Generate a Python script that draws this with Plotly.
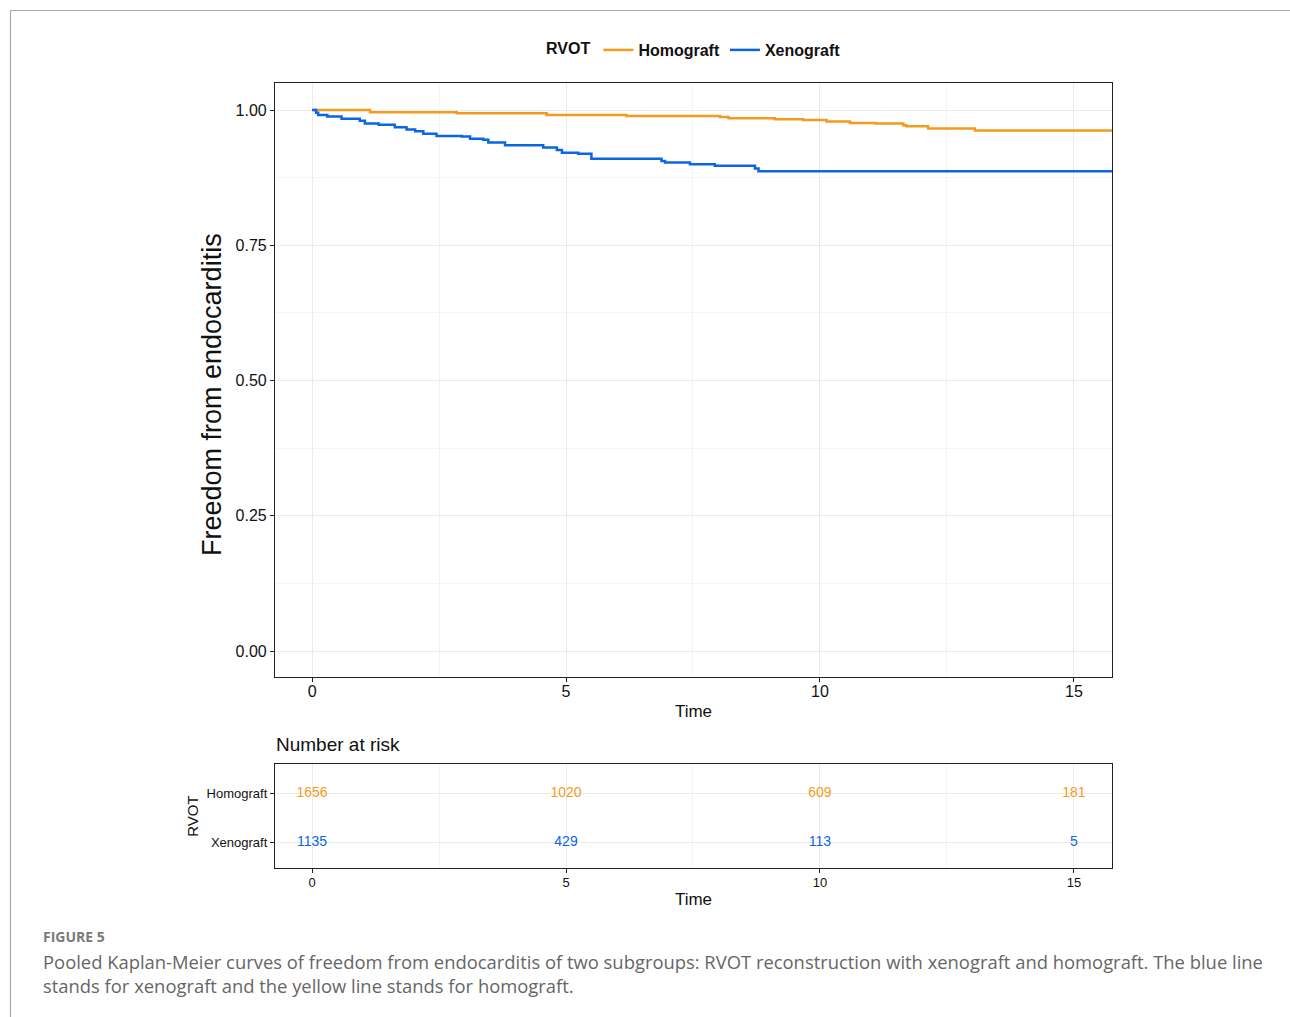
import plotly.graph_objects as go

W, H = 1290, 1017

# ---- data ----
homo_time = [0, 1.14, 2.85, 4.62, 6.19, 8.03, 8.2, 9.11, 9.67, 10.13, 10.59, 11.1, 11.64, 11.7, 12.13, 13.05, 15.75]
homo_surv = [1.0, 0.996, 0.994, 0.991, 0.989, 0.987, 0.985, 0.983, 0.9815, 0.979, 0.976, 0.975, 0.972, 0.970, 0.966, 0.962, 0.962]

xeno_time = [0, 0.08, 0.12, 0.30, 0.58, 0.94, 1.04, 1.31, 1.63, 1.86, 2.03, 2.19, 2.45, 2.95, 3.11, 3.37, 3.47,
             3.80, 4.55, 4.82, 4.92, 5.24, 5.5, 6.88, 6.95, 7.44, 7.93, 8.72, 8.79, 15.75]
xeno_surv = [1.0, 0.995, 0.991, 0.988, 0.984, 0.980, 0.975, 0.973, 0.968, 0.964, 0.961, 0.956, 0.952, 0.951, 0.947,
             0.945, 0.940, 0.935, 0.931, 0.926, 0.921, 0.919, 0.910, 0.906, 0.903, 0.900, 0.897, 0.892, 0.887, 0.887]

risk_times = [0, 5, 10, 15]
homo_risk = [1656, 1020, 609, 181]
xeno_risk = [1135, 429, 113, 5]

groups = ["Homograft", "Xenograft"]
x_ticks = [0, 5, 10, 15]
y_ticks = [0.0, 0.25, 0.50, 0.75, 1.00]
y_tick_text = ["0.00", "0.25", "0.50", "0.75", "1.00"]

ORANGE = "#F29B1D"
BLUE = "#0B66E4"
GRID = "#ECEBE8"
MINOR = "#F5F4F2"
FONT = "Liberation Sans, Arial, sans-serif"

def px_x(p):
    return p / W

def px_y(p):
    return 1 - p / H

fig = go.Figure()

fig.add_trace(go.Scatter(x=homo_time, y=homo_surv, mode="lines", line=dict(shape="hv", color=ORANGE, width=2.5),
                         name=groups[0], xaxis="x", yaxis="y"))
fig.add_trace(go.Scatter(x=xeno_time, y=xeno_surv, mode="lines", line=dict(shape="hv", color=BLUE, width=2.5),
                         name=groups[1], xaxis="x", yaxis="y"))

# risk table
fig.add_trace(go.Scatter(x=risk_times, y=[1] * len(risk_times), mode="text", text=[str(v) for v in homo_risk],
                         textfont=dict(color=ORANGE, size=14, family=FONT), showlegend=False,
                         xaxis="x2", yaxis="y2", hoverinfo="skip"))
fig.add_trace(go.Scatter(x=risk_times, y=[0] * len(risk_times), mode="text", text=[str(v) for v in xeno_risk],
                         textfont=dict(color=BLUE, size=14, family=FONT), showlegend=False,
                         xaxis="x2", yaxis="y2", hoverinfo="skip"))

xrange = [-0.73, 15.75]
xdom = [px_x(275), px_x(1112)]

common_axis = dict(showline=True, linecolor="#222", linewidth=1.2, mirror=True, ticks="outside",
                   ticklen=4, tickwidth=1.2, tickcolor="#222", zeroline=False, gridcolor=GRID, gridwidth=1)

fig.update_layout(
    width=W, height=H, autosize=False,
    margin=dict(l=0, r=0, t=0, b=0),
    paper_bgcolor="white", plot_bgcolor="white",
    font=dict(family=FONT, color="#111"),
    showlegend=True,
    legend=dict(orientation="h", x=px_x(695), y=px_y(50), xanchor="center", yanchor="middle",
                title=dict(text="RVOT", side="left", font=dict(size=16, weight="bold", family=FONT)),
                font=dict(size=16, weight="bold", family=FONT, color="#111"),
                itemwidth=30, tracegroupgap=0, bgcolor="rgba(0,0,0,0)"),
    xaxis=dict(domain=xdom, anchor="y", range=xrange, tickvals=x_ticks,
               tickfont=dict(size=16, color="#111"), ticklabelstandoff=-4,
               title=dict(text="Time", font=dict(size=17, color="#111"), standoff=5),
               minor=dict(dtick=2.5, tick0=0, showgrid=True, gridcolor=MINOR, ticks=""),
               **common_axis),
    yaxis=dict(domain=[px_y(677), px_y(83)], anchor="x", range=[-0.048, 1.05], tickvals=y_ticks,
               ticktext=y_tick_text, tickfont=dict(size=16, color="#111"),
               minor=dict(dtick=0.125, tick0=0, showgrid=True, gridcolor=MINOR, ticks=""),
               **common_axis),
    xaxis2=dict(domain=xdom, anchor="y2", range=xrange, tickvals=x_ticks,
                tickfont=dict(size=13, color="#111"), ticklabelstandoff=-2,
                title=dict(text="Time", font=dict(size=17, color="#111"), standoff=4),
                minor=dict(dtick=2.5, tick0=0, showgrid=True, gridcolor=MINOR, ticks=""),
                **common_axis),
    yaxis2=dict(domain=[px_y(868), px_y(764)], anchor="x2", range=[-0.51, 1.59], tickvals=[1, 0],
                ticktext=groups, tickfont=dict(size=13, color="#111"),
                title=dict(text="RVOT", font=dict(size=15, color="#111"), standoff=4),
                **common_axis),
)

# y-axis title of the survival panel
fig.add_annotation(text="Freedom from endocarditis", xref="paper", yref="paper", x=px_x(212), y=px_y(395),
                   xanchor="center", yanchor="middle", textangle=-90, showarrow=False,
                   font=dict(size=27, color="#111", family=FONT))

# titles / caption
fig.add_annotation(text="Number at risk", xref="paper", yref="paper", x=px_x(274), y=px_y(744),
                   xanchor="left", yanchor="middle", showarrow=False, font=dict(size=19, color="#111", family=FONT))
fig.add_annotation(text="<b>FIGURE 5</b>", xref="paper", yref="paper", x=px_x(41), y=px_y(936),
                   xanchor="left", yanchor="middle", showarrow=False,
                   font=dict(size=14, color="#7a7a7a", family="Open Sans"))
fig.add_annotation(text="Pooled Kaplan-Meier curves of freedom from endocarditis of two subgroups: RVOT reconstruction with xenograft and homograft. The blue line",
                   xref="paper", yref="paper", x=px_x(41), y=px_y(961), xanchor="left", yanchor="middle",
                   showarrow=False, font=dict(size=18.4, color="#666", family="Open Sans"))
fig.add_annotation(text="stands for xenograft and the yellow line stands for homograft.",
                   xref="paper", yref="paper", x=px_x(41), y=px_y(985), xanchor="left", yanchor="middle",
                   showarrow=False, font=dict(size=18.4, color="#666", family="Open Sans"))

# page frame
fig.add_shape(type="line", xref="paper", yref="paper", x0=px_x(10), x1=1, y0=px_y(10.5), y1=px_y(10.5),
              line=dict(color="#aaaaaa", width=1.2))
fig.add_shape(type="line", xref="paper", yref="paper", x0=px_x(10.5), x1=px_x(10.5), y0=0, y1=px_y(10),
              line=dict(color="#aaaaaa", width=1.2))

fig.write_html("out.html")
